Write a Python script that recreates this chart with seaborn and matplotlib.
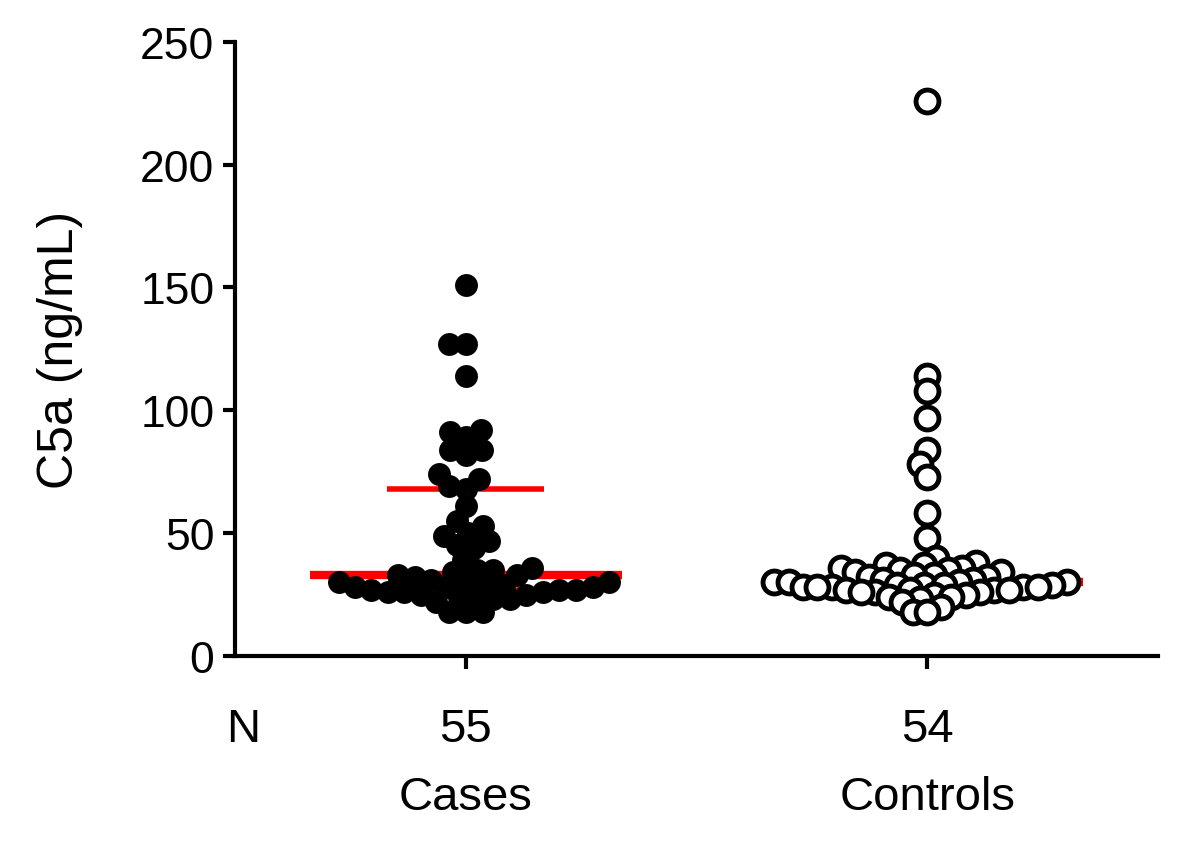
import numpy as np
import pandas as pd
import seaborn as sns
from matplotlib import pyplot as plt

# values (ng/mL)
groups = ["Cases", "Controls"]
counts = ["55", "54"]
cases = [151, 127, 127, 114, 92, 91, 89, 84, 84, 82,
         74, 72, 69, 68, 61, 55, 53, 50, 49, 47,
         45, 44, 39, 36, 35, 35, 34, 33, 33, 32,
         31, 30, 30, 30, 29, 29, 28, 28, 28, 27,
         27, 27, 26, 26, 26, 25, 25, 24, 24, 23,
         23, 22, 18, 18, 18]
controls = [226, 114, 108, 97, 84, 78, 73, 58, 48, 40,
            38, 37, 37, 36, 36, 35, 35, 34, 34, 33,
            33, 32, 32, 31, 31, 30, 30, 30, 30, 29,
            29, 29, 29, 28, 28, 28, 28, 28, 27, 27,
            27, 27, 26, 26, 26, 25, 25, 24, 24, 23,
            22, 20, 18, 18]

df = pd.DataFrame({
    "group": ["Cases"] * len(cases) + ["Controls"] * len(controls),
    "c5a": cases + controls,
})

sns.set_style("ticks")
plt.rcParams["font.family"] = ["Liberation Sans", "DejaVu Sans"]
plt.rcParams["text.color"] = "black"
plt.rcParams["axes.labelcolor"] = "black"

fig = plt.figure(figsize=(12, 8.53), dpi=100)
ax = fig.add_axes([0.196, 0.2298, 0.769, 0.72])
ax.set_xlim(-0.5, 1.5)
ax.set_ylim(0, 250)

# swarm laid out with smaller dots, then enlarged so they overlap like in GraphPad
sns.swarmplot(data=df[df.group == "Cases"], x="group", y="c5a", order=groups,
              color="black", size=11.5, linewidth=0, ax=ax, zorder=3)
case_pts = list(ax.collections)
sns.swarmplot(data=df[df.group == "Controls"], x="group", y="c5a", order=groups,
              color="white", edgecolor="black", size=9.5, linewidth=0.5, ax=ax, zorder=3)
ctrl_pts = [c for c in ax.collections if c not in case_pts]
ax.set_xlim(-0.5, 1.5)
ax.set_ylim(0, 250)
fig.canvas.draw()
for pts in case_pts + ctrl_pts:
    if "draw" in pts.__dict__:
        del pts.draw
    pts.set_sizes([16.5 ** 2])
for pts in ctrl_pts:
    pts.set_linewidth(3.5)

# median and interquartile range in red (GraphPad-style quartiles)
for i, vals in enumerate([cases, controls]):
    q1, med, q3 = np.percentile(vals, [25, 50, 75], method="weibull")
    ax.hlines(med, i - 0.338, i + 0.338, color="red", lw=6, zorder=2)
    ax.hlines([q1, q3], i - 0.17, i + 0.17, color="red", lw=4, zorder=2)
    ax.vlines(i, q1, q3, color="red", lw=4, zorder=2)

ax.set_yticks(np.arange(0, 251, 50))
ax.set_xticks([0, 1])
ax.set_xticklabels(counts)
ax.set_xlabel("")
ax.set_ylabel("C5a (ng/mL)", fontsize=36)
ax.yaxis.set_label_coords(-0.165, 0.5)

for side in ["top", "right"]:
    ax.spines[side].set_visible(False)
for side in ["left", "bottom"]:
    ax.spines[side].set_linewidth(3)
    ax.spines[side].set_color("black")
ax.tick_params(axis="y", labelsize=32, length=9, width=3, pad=6, colors="black")
ax.tick_params(axis="x", labelsize=34, length=9, width=3, pad=28, colors="black")

trans = ax.get_xaxis_transform()
ax.text(-0.483, -0.119, "N", fontsize=34, ha="center", va="center", transform=trans)
for i, g in enumerate(groups):
    ax.text(i, -0.2296, g, fontsize=34, ha="center", va="center", transform=trans)

plt.savefig("out.png", dpi=100)
